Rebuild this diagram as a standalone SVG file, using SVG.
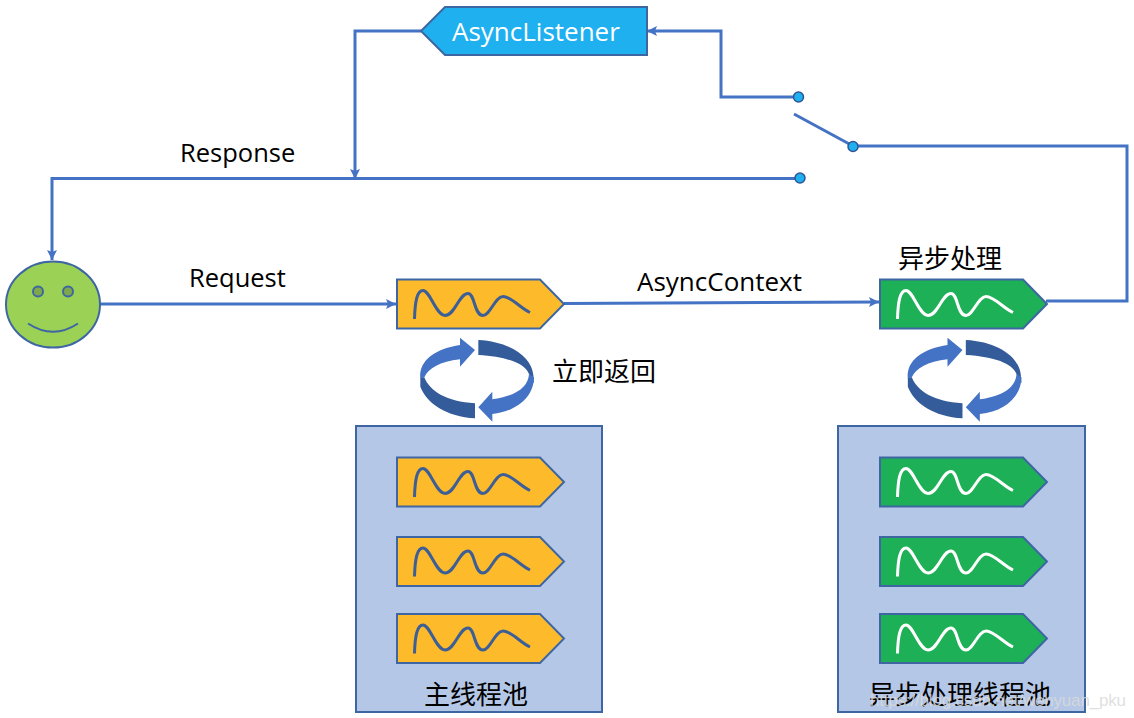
<svg xmlns="http://www.w3.org/2000/svg" width="1134" height="718" viewBox="0 0 1134 718">
<style>
text{font-family:"Liberation Sans","Noto Sans CJK SC",sans-serif;fill:#000}
.cn{font-family:"Noto Sans CJK SC",sans-serif;font-size:26px}
.lbl{font-family:"Open Sans","Noto Sans",sans-serif;font-size:25.500px}
.conn{fill:none;stroke:#4472C4;stroke-width:3}
.pool{fill:#B4C7E7;stroke:#3E66A3;stroke-width:2}
.shape{stroke:#3E66A3;stroke-width:2}
.or{fill:#FDBB2B}
.gr{fill:#1DB056}
.wave{fill:none;stroke-width:3;stroke-linecap:butt}
.dot{fill:#1FB0EF;stroke:#2F5597;stroke-width:1.5}
.lt{fill:#4472C4}
.dk{fill:#345B9A}
</style>
<defs>
<marker id="ah" markerUnits="userSpaceOnUse" markerWidth="12" markerHeight="12" refX="10" refY="5" orient="auto"><path d="M0,0L10,5L0,10L2,5Z" fill="#4472C4"/></marker>
<g id="th">
<path class="shape" d="M0,0H143L167,24.500L143,49H0Z"/>
<path class="wave" d="M17.500,39.500C18,22 20,11 26,11C33,11 39,36 48,36C58,36 62,14 71,14C78,14 77,36 86,36C93,36 98,17 106,17C114,17 124,29 133,33"/>
</g>
<g id="ring" transform="translate(380 270) scale(.3333)">
<path class="dk" d="M295,210C390,215 455,260 460,315L462,340L447,312C435,280 380,260 295,255Z"/>
<path class="dk" d="M285,400C200,395 150,365 133,322L121,322V350C140,400 200,440 285,445Z"/>
<path class="lt" d="M240,203L285,240L240,290V268C180,275 145,295 133,322L121,325C115,270 170,235 240,225Z"/>
<path class="lt" d="M337,365L295,412L337,455V432C410,425 462,380 462,322L447,312C445,350 410,378 337,388Z"/>
</g>
</defs>
<rect width="1134" height="718" fill="#fff"/>
<g id="connectors">
<path class="conn" d="M100,304H396" marker-end="url(#ah)"/>
<path class="conn" d="M564,303.500L879,302" marker-end="url(#ah)"/>
<path class="conn" d="M1046,301H1127V146H853"/>
<path class="conn" d="M794,114L853,146"/>
<path class="conn" d="M799,97H721V31H647" marker-end="url(#ah)"/>
<path class="conn" d="M800,178.500H52V260" marker-end="url(#ah)"/>
<path class="conn" d="M421,31H355V179" marker-end="url(#ah)"/>
</g>
<g id="async-listener">
<path class="shape" d="M445,7H647V55H445L421,31Z" fill="#1FB0EF"/>
<text x="452" y="41" class="lbl" style="fill:#fff;font-size:26px">AsyncListener</text>
</g>
<g id="switch">
<circle class="dot" cx="798.500" cy="97" r="5"/>
<circle class="dot" cx="853" cy="146.500" r="5"/>
<circle class="dot" cx="800" cy="178" r="5"/>
</g>
<g id="user">
<ellipse cx="53" cy="304.500" rx="47" ry="43" fill="#9BD155" stroke="#3E66A3" stroke-width="2"/>
<circle cx="38" cy="291.500" r="5" fill="#7FA84A" stroke="#3E66A3" stroke-width="2"/>
<circle cx="68" cy="291.500" r="5" fill="#7FA84A" stroke="#3E66A3" stroke-width="2"/>
<path d="M28,323.500Q53,340 78,323.500" fill="none" stroke="#3E66A3" stroke-width="2"/>
</g>
<g id="main-thread"><use href="#th" x="397" y="279.500" class="or" stroke="#3E5F95"/></g>
<g id="async-thread"><use href="#th" x="880" y="279.500" class="gr" stroke="#fff"/></g>
<g id="ring-main"><use href="#ring"/></g>
<g id="ring-async"><use href="#ring" x="487.500"/></g>
<g id="main-pool">
<rect class="pool" x="356" y="426" width="246" height="286"/>
<use href="#th" x="397" y="457.500" class="or" stroke="#3E5F95"/>
<use href="#th" x="397" y="537" class="or" stroke="#3E5F95"/>
<use href="#th" x="397" y="614" class="or" stroke="#3E5F95"/>
<text x="424" y="704" class="cn">主线程池</text>
</g>
<g id="async-pool">
<rect class="pool" x="838" y="426" width="247" height="286"/>
<use href="#th" x="880" y="457.500" class="gr" stroke="#fff"/>
<use href="#th" x="880" y="537" class="gr" stroke="#fff"/>
<use href="#th" x="880" y="614" class="gr" stroke="#fff"/>
<text x="869" y="704" class="cn">异步处理线程池</text>
</g>
<g id="labels">
<text x="180" y="162" class="lbl">Response</text>
<text x="189" y="287" class="lbl">Request</text>
<text x="637" y="291" class="lbl" style="font-size:26px">AsyncContext</text>
<text x="552" y="381" class="cn">立即返回</text>
<text x="898" y="268" class="cn">异步处理</text>
</g>
<text x="870" y="706" textLength="256" style="font-size:17px;fill:#DADADA;fill-opacity:.85">https://blog.csdn.net/wenyuan_pku</text>
</svg>
